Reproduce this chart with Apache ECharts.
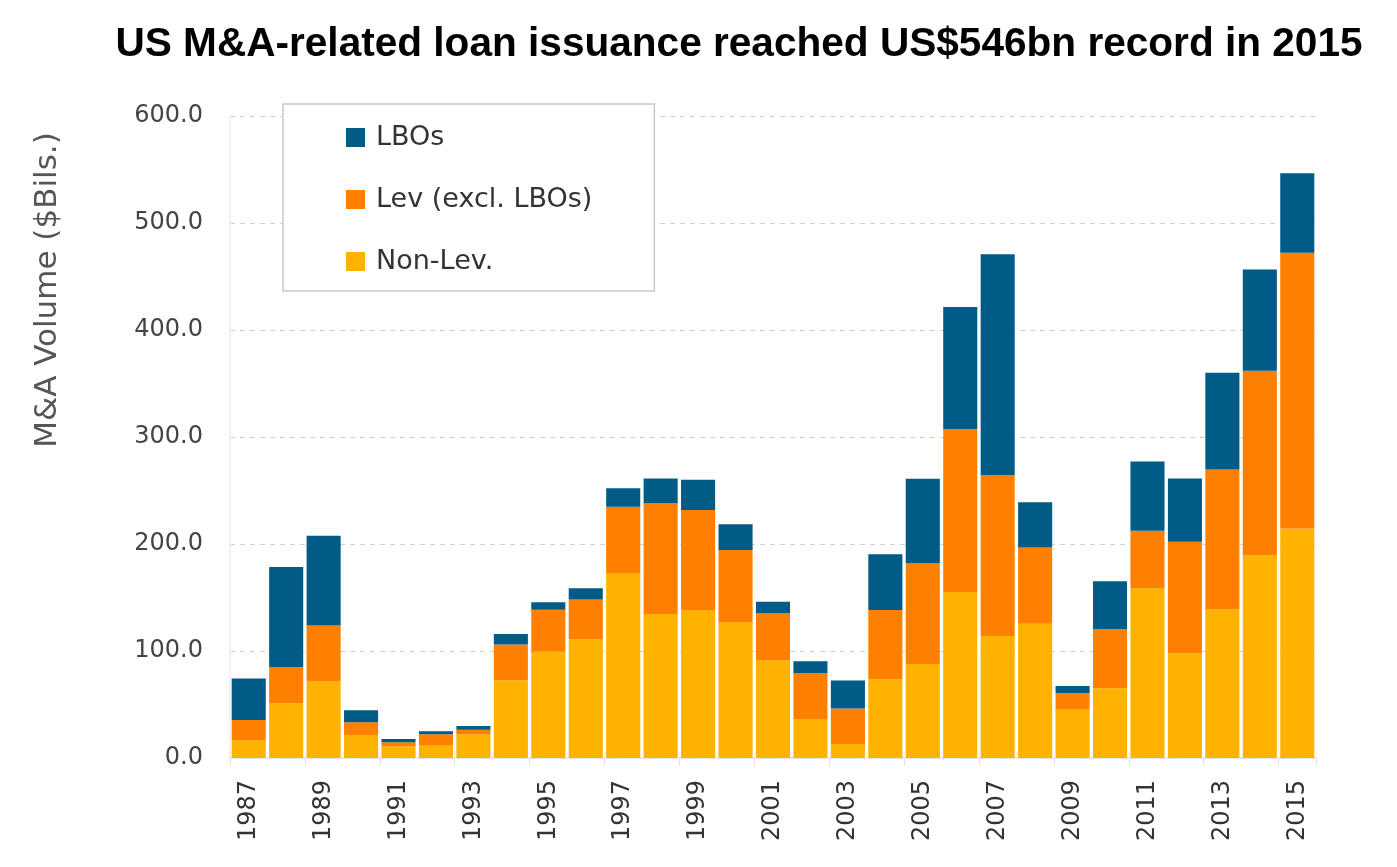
<!DOCTYPE html>
<html>
<head>
<meta charset="utf-8">
<script src="https://cdn.jsdelivr.net/npm/echarts@6/dist/echarts.min.js"></script>
<style>
html,body{margin:0;padding:0;background:#fff;}
#chart{width:1397px;height:867px;}
</style>
</head>
<body>
<div id="chart"></div>
<script>
const years = ['1987','1988','1989','1990','1991','1992','1993','1994','1995','1996','1997','1998','1999','2000','2001','2002','2003','2004','2005','2006','2007','2008','2009','2010','2011','2012','2013','2014','2015'];
const nonLev = [16.6,51.2,71.5,21.4,11.0,12.2,22.1,72.6,99.4,110.9,172.8,134.5,138.4,127.1,91.4,36.4,13.2,73.7,87.9,155.1,114.0,125.5,45.8,65.3,158.7,97.8,138.7,189.3,214.4];
const lev = [18.8,33.5,52.3,12.1,3.7,9.9,4.4,33.5,39.1,37.2,62.1,103.6,93.3,67.3,44.1,42.8,33.1,64.7,94.2,152.2,150.4,71.2,14.7,55.0,53.8,104.4,131.0,172.7,257.9];
const lbo = [39.0,93.9,83.9,11.1,3.0,2.9,3.3,9.9,7.0,10.6,17.1,23.2,28.3,24.1,10.6,11.2,26.1,52.1,78.9,114.3,206.4,42.4,6.7,45.0,64.6,59.1,90.4,94.5,74.2];
const yTicks = [0,100,200,300,400,500,600];
const titleText = 'US M&A-related loan issuance reached US$546bn record in 2015';
const yName = 'M&A Volume ($Bils.)';

const chart = echarts.init(document.getElementById('chart'));
const labelFont = '"DejaVu Sans", sans-serif';
chart.setOption({
  animation: false,
  backgroundColor: '#fff',
  title: {
    text: titleText,
    left: 734, top: 19, textAlign: 'center',
    textStyle: {fontFamily: '"Liberation Sans", Arial, sans-serif', fontWeight: 'bold', fontSize: 40.6, color: '#000'}
  },
  graphic: [{
    type: 'text',
    x: 48, y: 290,
    rotation: Math.PI / 2,
    style: {text: yName, align: 'center', verticalAlign: 'middle', fill: '#555', font: '31px "DejaVu Sans", sans-serif'}
  }],
  legend: {
    orient: 'vertical',
    left: 283, top: 104,
    backgroundColor: '#fff',
    borderColor: '#c8c8c8', borderWidth: 1.5,
    padding: [20, 62, 16, 63],
    itemWidth: 19, itemHeight: 19, itemGap: 35,
    icon: 'rect',
    data: ['LBOs','Lev (excl. LBOs)','Non-Lev.'],
    textStyle: {fontFamily: labelFont, fontSize: 27, color: '#333', padding: [0,0,0,6]}
  },
  grid: {left: 230, right: 81, top: 116, bottom: 109},
  xAxis: {
    type: 'category',
    data: years,
    axisLine: {lineStyle: {color: '#e3e3e3', width: 1.5}},
    axisTick: {show: true, length: 8, lineStyle: {color: '#e3e3e3'}},
    axisLabel: {rotate: 90, interval: 1, fontFamily: labelFont, fontSize: 24, color: '#333', margin: 22}
  },
  yAxis: {
    type: 'value',
    min: 0, max: 600, interval: 100,
    axisLine: {show: true, lineStyle: {color: '#eeeeee', width: 1.5}},
    axisTick: {show: false},
    axisLabel: {formatter: v => v.toFixed(1), fontFamily: labelFont, fontSize: 24, color: '#444', margin: 27},
    splitLine: {lineStyle: {color: '#d0d0d0', type: [5,5], width: 1}}
  },
  series: [
    {name: 'Non-Lev.', type: 'bar', stack: 'a', data: nonLev, barCategoryGap: '9%', itemStyle: {color: '#ffb300'}},
    {name: 'Lev (excl. LBOs)', type: 'bar', stack: 'a', data: lev, itemStyle: {color: '#ff8000'}},
    {name: 'LBOs', type: 'bar', stack: 'a', data: lbo, itemStyle: {color: '#005b87'}}
  ]
});
</script>
</body>
</html>
